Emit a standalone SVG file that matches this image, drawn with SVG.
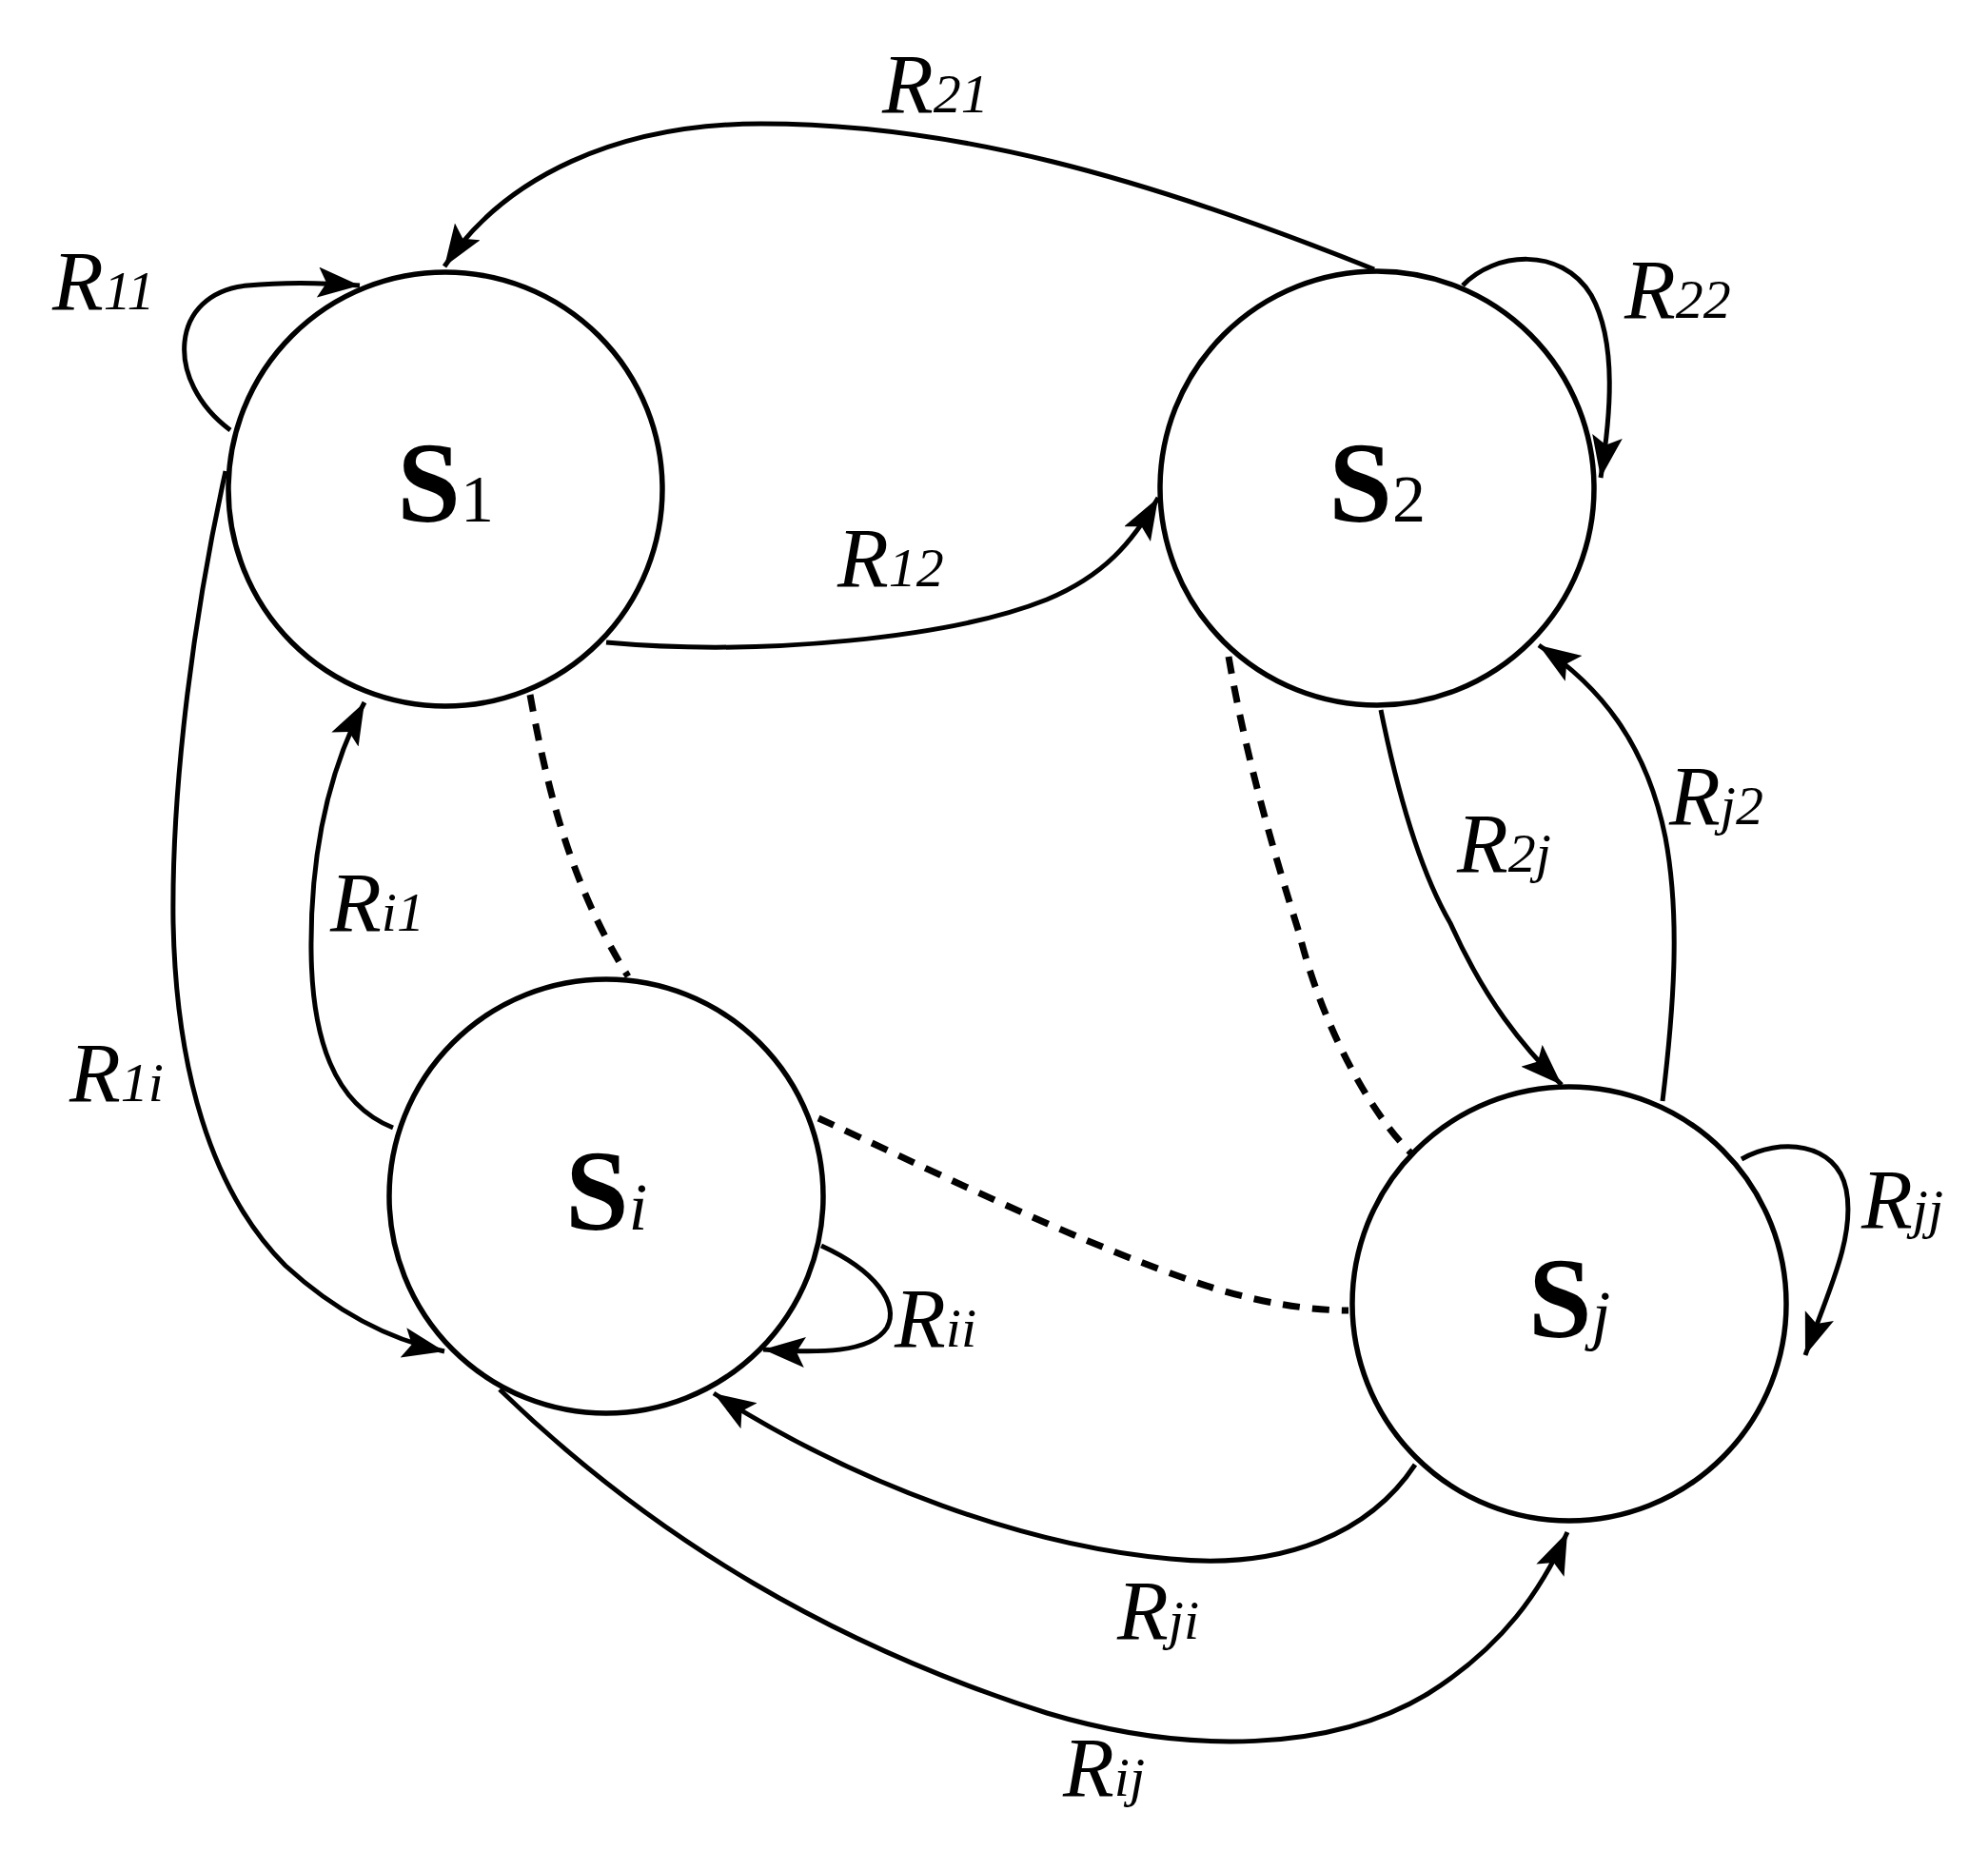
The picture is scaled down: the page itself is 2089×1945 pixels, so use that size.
<svg xmlns="http://www.w3.org/2000/svg" width="2089" height="1945" viewBox="0 0 2089 1945">
<defs>
<marker id="ah" markerUnits="userSpaceOnUse" markerWidth="50" markerHeight="34" refX="44" refY="16" orient="auto"><path d="M0,0 L44,16 L0,32 L9,16 Z" fill="#000"/></marker>
</defs>
<style>
.n{fill:#fff;stroke:#000;stroke-width:5.5}
.c{fill:none;stroke:#000;stroke-width:5}
.a{marker-end:url(#ah)}
.d{fill:none;stroke:#000;stroke-width:7;stroke-dasharray:18 13}
.nl{font-family:"Liberation Serif",serif;font-size:120px;font-weight:bold}
.ns{font-size:70px;font-weight:normal}
.l{font-family:"Liberation Serif",serif;font-size:88px;font-style:italic}
.s{font-size:58px}
</style>
<rect width="2089" height="1945" fill="#fff"/>
<g id="connectors">
<path class="c a" d="M1444,283 C1200,185 1000,130 800,130 C650,130 530,185 467,280"/>
<path class="c a" d="M242,452 C172,400 178,308 260,300 C300,296 340,297 378,300"/>
<path class="c a" d="M637,675 C800,690 1000,670 1100,630 C1160,605 1190,570 1217,523"/>
<path class="c a" d="M1537,300 C1570,265 1640,258 1672,310 C1700,360 1692,440 1682,502"/>
<path class="c a" d="M1451,746 C1470,840 1495,920 1524,970 C1560,1050 1600,1100 1641,1140"/>
<path class="c a" d="M1747,1157 C1760,1050 1765,960 1750,880 C1730,780 1680,720 1617,678"/>
<path class="c a" d="M413,1185 C350,1160 328,1090 327,1000 C326,900 345,810 383,738"/>
<path class="c a" d="M237,495 C205,640 180,820 182,970 C185,1120 220,1250 300,1330 C360,1385 420,1410 467,1420"/>
<path class="c a" d="M863,1309 C920,1335 945,1370 932,1395 C915,1422 860,1422 802,1418"/>
<path class="c a" d="M1487,1539 C1440,1610 1350,1650 1230,1638 C1080,1625 900,1560 750,1464"/>
<path class="c a" d="M525,1460 C690,1620 880,1730 1100,1800 C1250,1845 1400,1840 1500,1780 C1580,1730 1620,1670 1647,1610"/>
<path class="c a" d="M1830,1218 C1870,1195 1930,1200 1940,1250 C1950,1300 1920,1360 1897,1424"/>
<path class="d" d="M1291,690 C1310,800 1340,900 1365,980 C1390,1080 1440,1170 1484,1213"/>
<path class="d" d="M557,730 C575,830 600,930 660,1026"/>
<path class="d" d="M860,1175 C980,1230 1120,1300 1250,1345 C1320,1370 1380,1377 1417,1377"/>
</g>
<g id="labels">
<text class="l" x="927" y="118">R<tspan class="s">21</tspan></text>
<text class="l" x="55" y="325">R<tspan class="s">11</tspan></text>
<text class="l" x="880" y="616">R<tspan class="s">12</tspan></text>
<text class="l" x="1707" y="334">R<tspan class="s">22</tspan></text>
<text class="l" x="1531" y="916">R<tspan class="s">2j</tspan></text>
<text class="l" x="1754" y="866">R<tspan class="s">j2</tspan></text>
<text class="l" x="347" y="978">R<tspan class="s">i1</tspan></text>
<text class="l" x="73" y="1157">R<tspan class="s">1i</tspan></text>
<text class="l" x="940" y="1415">R<tspan class="s">ii</tspan></text>
<text class="l" x="1956" y="1290">R<tspan class="s">jj</tspan></text>
<text class="l" x="1174" y="1722">R<tspan class="s">ji</tspan></text>
<text class="l" x="1117" y="1887">R<tspan class="s">ij</tspan></text>
</g>
<g id="S1"><circle class="n" cx="468" cy="514" r="228"/><text class="nl" x="468" y="548" text-anchor="middle">S<tspan class="ns">1</tspan></text></g>
<g id="S2"><circle class="n" cx="1447" cy="513" r="228"/><text class="nl" x="1447" y="548" text-anchor="middle">S<tspan class="ns">2</tspan></text></g>
<g id="Si"><circle class="n" cx="637" cy="1257" r="228"/><text class="nl" x="637" y="1292" text-anchor="middle">S<tspan class="ns" font-style="italic">i</tspan></text></g>
<g id="Sj"><circle class="n" cx="1649" cy="1370" r="228"/><text class="nl" x="1649" y="1405" text-anchor="middle">S<tspan class="ns" font-style="italic">j</tspan></text></g>
</svg>
